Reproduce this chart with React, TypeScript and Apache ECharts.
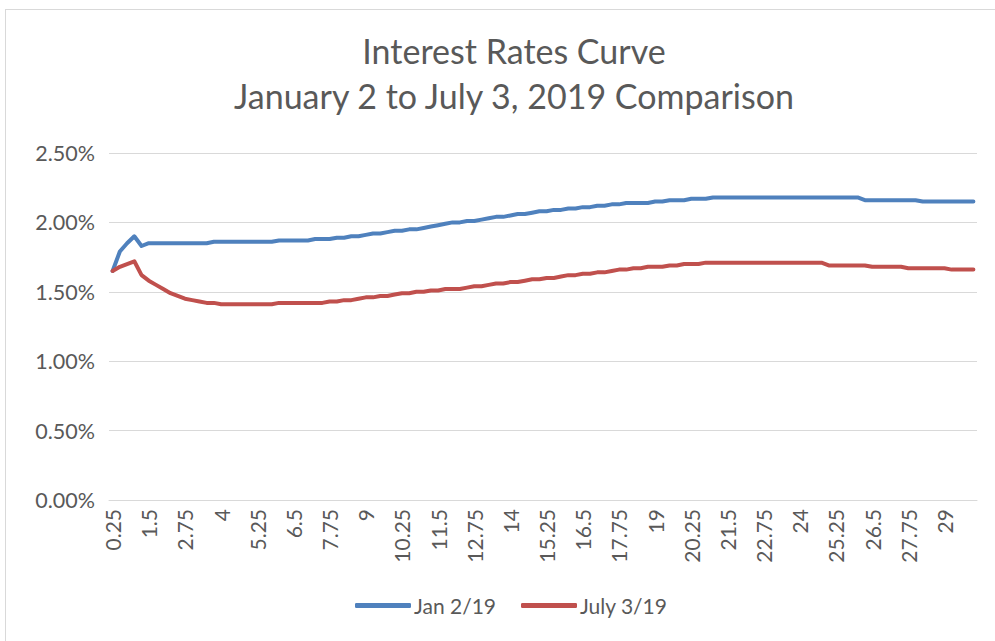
import React, { useEffect, useRef } from "react";
import * as echarts from "echarts";

const titleLines = ["Interest Rates Curve", "January 2 to July 3, 2019 Comparison"];

const maturities: number[] = [
  0.25, 0.5, 0.75, 1, 1.25, 1.5, 1.75, 2, 2.25, 2.5, 2.75, 3, 3.25, 3.5, 3.75, 4, 4.25, 4.5, 4.75, 5,
  5.25, 5.5, 5.75, 6, 6.25, 6.5, 6.75, 7, 7.25, 7.5, 7.75, 8, 8.25, 8.5, 8.75, 9, 9.25, 9.5, 9.75, 10,
  10.25, 10.5, 10.75, 11, 11.25, 11.5, 11.75, 12, 12.25, 12.5, 12.75, 13, 13.25, 13.5, 13.75, 14, 14.25, 14.5, 14.75, 15,
  15.25, 15.5, 15.75, 16, 16.25, 16.5, 16.75, 17, 17.25, 17.5, 17.75, 18, 18.25, 18.5, 18.75, 19, 19.25, 19.5, 19.75, 20,
  20.25, 20.5, 20.75, 21, 21.25, 21.5, 21.75, 22, 22.25, 22.5, 22.75, 23, 23.25, 23.5, 23.75, 24, 24.25, 24.5, 24.75, 25,
  25.25, 25.5, 25.75, 26, 26.25, 26.5, 26.75, 27, 27.25, 27.5, 27.75, 28, 28.25, 28.5, 28.75, 29, 29.25, 29.5, 29.75, 30,
];

const jan2Rates: number[] = [
  1.65, 1.79, 1.85, 1.9, 1.83, 1.85, 1.85, 1.85, 1.85, 1.85, 1.85, 1.85, 1.85, 1.85, 1.86, 1.86, 1.86, 1.86, 1.86, 1.86,
  1.86, 1.86, 1.86, 1.87, 1.87, 1.87, 1.87, 1.87, 1.88, 1.88, 1.88, 1.89, 1.89, 1.9, 1.9, 1.91, 1.92, 1.92, 1.93, 1.94,
  1.94, 1.95, 1.95, 1.96, 1.97, 1.98, 1.99, 2.0, 2.0, 2.01, 2.01, 2.02, 2.03, 2.04, 2.04, 2.05, 2.06, 2.06, 2.07, 2.08,
  2.08, 2.09, 2.09, 2.1, 2.1, 2.11, 2.11, 2.12, 2.12, 2.13, 2.13, 2.14, 2.14, 2.14, 2.14, 2.15, 2.15, 2.16, 2.16, 2.16,
  2.17, 2.17, 2.17, 2.18, 2.18, 2.18, 2.18, 2.18, 2.18, 2.18, 2.18, 2.18, 2.18, 2.18, 2.18, 2.18, 2.18, 2.18, 2.18, 2.18,
  2.18, 2.18, 2.18, 2.18, 2.16, 2.16, 2.16, 2.16, 2.16, 2.16, 2.16, 2.16, 2.15, 2.15, 2.15, 2.15, 2.15, 2.15, 2.15, 2.15,
];

const jul3Rates: number[] = [
  1.65, 1.68, 1.7, 1.72, 1.62, 1.58, 1.55, 1.52, 1.49, 1.47, 1.45, 1.44, 1.43, 1.42, 1.42, 1.41, 1.41, 1.41, 1.41, 1.41,
  1.41, 1.41, 1.41, 1.42, 1.42, 1.42, 1.42, 1.42, 1.42, 1.42, 1.43, 1.43, 1.44, 1.44, 1.45, 1.46, 1.46, 1.47, 1.47, 1.48,
  1.49, 1.49, 1.5, 1.5, 1.51, 1.51, 1.52, 1.52, 1.52, 1.53, 1.54, 1.54, 1.55, 1.56, 1.56, 1.57, 1.57, 1.58, 1.59, 1.59,
  1.6, 1.6, 1.61, 1.62, 1.62, 1.63, 1.63, 1.64, 1.64, 1.65, 1.66, 1.66, 1.67, 1.67, 1.68, 1.68, 1.68, 1.69, 1.69, 1.7,
  1.7, 1.7, 1.71, 1.71, 1.71, 1.71, 1.71, 1.71, 1.71, 1.71, 1.71, 1.71, 1.71, 1.71, 1.71, 1.71, 1.71, 1.71, 1.71, 1.69,
  1.69, 1.69, 1.69, 1.69, 1.69, 1.68, 1.68, 1.68, 1.68, 1.68, 1.67, 1.67, 1.67, 1.67, 1.67, 1.67, 1.66, 1.66, 1.66, 1.66,
];

const seriesNames = ["Jan 2/19", "July 3/19"];
const seriesColors = ["#4f81bd", "#c0504d"];

const FONT = "Lato";
const TEXT = "#595959";
const GRID = "#d9d9d9";

export default function App() {
  const ref = useRef<HTMLDivElement>(null);
  useEffect(() => {
    if (!ref.current) return;
    const chart = echarts.init(ref.current, undefined, { renderer: "svg" });
    chart.setOption({
      animation: false,
      backgroundColor: "#ffffff",
      title: [
        {
          text: titleLines.join("\n"),
          left: 509,
          textAlign: "center",
          top: 23,
          textStyle: {
            fontFamily: FONT,
            fontSize: 34,
            fontWeight: "normal",
            color: TEXT,
            lineHeight: 45,
          },
        },
      ],
      graphic: [
        { type: "line", shape: { x1: 5, y1: 9.5, x2: 995, y2: 9.5 }, style: { stroke: GRID, lineWidth: 1 } },
        { type: "line", shape: { x1: 5.5, y1: 9, x2: 5.5, y2: 641 }, style: { stroke: GRID, lineWidth: 1 } },
      ],
      legend: {
        bottom: 20,
        left: 350,
        itemWidth: 56,
        itemHeight: 5,
        itemGap: 25,
        icon: "roundRect",
        textStyle: { fontFamily: FONT, fontSize: 21, color: TEXT, padding: [0, 0, 0, -2] },
        data: seriesNames,
      },
      grid: { left: 109, right: 18, top: 153, bottom: 141, containLabel: false },
      xAxis: {
        type: "category",
        boundaryGap: true,
        data: maturities.map((m) => String(m)),
        axisLine: { show: true, lineStyle: { color: GRID, width: 1 } },
        axisTick: { show: false },
        axisLabel: {
          interval: 4,
          rotate: 90,
          margin: 9,
          fontFamily: FONT,
          fontSize: 21,
          color: TEXT,
        },
      },
      yAxis: {
        type: "value",
        min: 0,
        max: 2.5,
        interval: 0.5,
        axisLine: { show: false },
        axisTick: { show: false },
        splitLine: { lineStyle: { color: GRID, width: 1 } },
        axisLabel: {
          margin: 14,
          fontFamily: FONT,
          fontSize: 21.5,
          color: TEXT,
          formatter: (v: number) => v.toFixed(2) + "%",
        },
      },
      series: [
        {
          name: seriesNames[0],
          type: "line",
          data: jan2Rates,
          showSymbol: false,
          symbol: "none",
          lineStyle: { color: seriesColors[0], width: 4, cap: "round", join: "round" },
          itemStyle: { color: seriesColors[0] },
        },
        {
          name: seriesNames[1],
          type: "line",
          data: jul3Rates,
          showSymbol: false,
          symbol: "none",
          lineStyle: { color: seriesColors[1], width: 4, cap: "round", join: "round" },
          itemStyle: { color: seriesColors[1] },
        },
      ],
    });
    return () => chart.dispose();
  }, []);
  return (
    <div
      ref={ref}
      style={{ position: "fixed", left: 0, top: 0, width: 995, height: 641, background: "#fff" }}
    />
  );
}
